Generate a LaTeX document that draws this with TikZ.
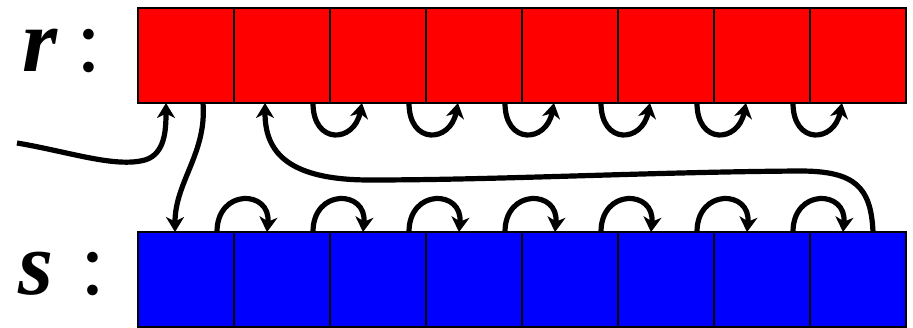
\documentclass[tikz,border=0pt]{standalone}
\usepackage{fontspec}
\setmainfont{Liberation Serif}
\usetikzlibrary{arrows.meta,calc}
\tikzset{
  cell/.style={draw=black,line width=2.6pt,minimum width=96pt,minimum height=95pt,inner sep=0pt,outer sep=0pt},
  rcell/.style={cell,fill=red},
  bcell/.style={cell,fill=blue},
  arr/.style={line width=5.2pt,-{Stealth[length=15pt,width=18pt,inset=4.5pt]}},
  lbl/.style={anchor=base west,inner sep=0pt,font=\fontsize{90}{90}\selectfont}
}
\begin{document}
\begin{tikzpicture}[x=1pt,y=-1pt]
\useasboundingbox (0,0) rectangle (913,328);
\foreach \i in {1,...,8}{
  \node[rcell] (r\i) at ({138+96*(\i-1)+48},55.5) {};
  \node[bcell] (s\i) at ({138+96*(\i-1)+48},279.5) {};
}
\node[lbl] (lr) at (22,72) {\makebox[54pt][l]{\bfseries\itshape r}:};
\node[lbl] (ls) at (18,295) {\makebox[62pt][l]{\bfseries\itshape s}:};
% red loops
\foreach \i [evaluate=\i as \j using int(\i+1)] in {2,...,7}{
  \draw[arr] ([xshift=-17pt]r\i.south east) .. controls +(0,42) and +(-8,40) .. ([xshift=32pt]r\j.south west);
}
% blue loops
\foreach \i [evaluate=\i as \j using int(\i+1)] in {1,...,7}{
  \draw[arr] ([xshift=-17pt]s\i.north east) .. controls +(0,-44) and +(4,-42) .. ([xshift=33pt]s\j.north west);
}
% input
\coordinate (in) at (17,143);
\draw[arr] (in) .. controls (70,152) and (115,168) .. (145,160) .. controls (165,154) and (166,130) .. ([xshift=28pt]r1.south west);
% r1 -> s1
\draw[arr] ([xshift=65pt]r1.south west) .. controls +(4,50) and +(0,-50) .. ([xshift=37pt]s1.north west);
% s8 -> r2
\draw[arr] ([xshift=63pt]s8.north west) .. controls +(-2,-45) and (855,171) .. (800,171) .. controls (650,172) and (500,180) .. (370,180) .. controls (285,180) and (265,150) .. ([xshift=31pt]r2.south west);
\end{tikzpicture}
\end{document}
